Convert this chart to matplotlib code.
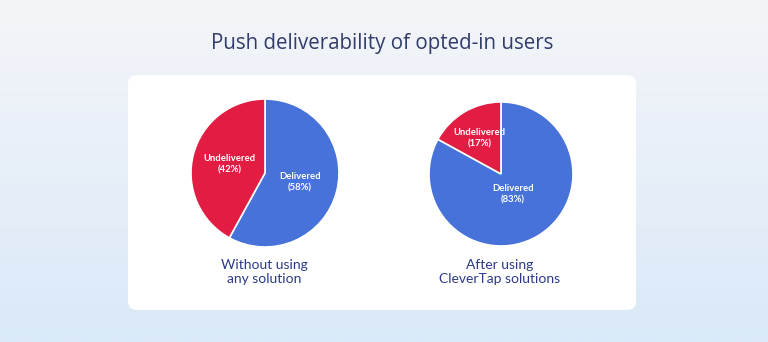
import numpy as np
import matplotlib
matplotlib.use("Agg")
import matplotlib.pyplot as plt
from matplotlib.patches import FancyBboxPatch
from matplotlib.colors import LinearSegmentedColormap

# data
title = "Push deliverability of opted-in users"
slice_names = ["Delivered", "Undelivered"]
before_values = [58, 42]
after_values = [83, 17]
captions = ["Without using\nany solution", "After using\nCleverTap solutions"]

BLUE = "#4672d9"
RED = "#e31c43"
NAVY = "#2b3a8a"

W, H = 768, 342
fig = plt.figure(figsize=(W / 100, H / 100), dpi=100)
ax = fig.add_axes([0, 0, 1, 1])
ax.set_xlim(0, W)
ax.set_ylim(0, H)
ax.set_aspect("equal")
ax.axis("off")

# background gradient
cmap = LinearSegmentedColormap.from_list("bg", ["#dae9f9", "#f4f5f8"])
grad = np.linspace(0, 1, 256).reshape(-1, 1)
ax.imshow(grad, extent=[0, W, 0, H], origin="lower", cmap=cmap, aspect="auto", zorder=0)

# white card
card = FancyBboxPatch((128, H - 310), 508, 235, boxstyle="round,pad=0,rounding_size=9",
                      facecolor="white", edgecolor="none", zorder=1)
ax.add_patch(card)

ax.text(382, H - 43, title, ha="center", va="center", fontsize=14.8,
        family="Open Sans", color="#323d6c", zorder=3)


def draw_pie(values, center, radius, explode, label_dist):
    wedges, texts = ax.pie(values, colors=[BLUE, RED], startangle=90, counterclock=False,
                           center=center, radius=radius, explode=explode, frame=True,
                           wedgeprops=dict(edgecolor="white", linewidth=1.2),
                           labels=None)
    for w, name, val, d in zip(wedges, slice_names, values, label_dist):
        ang = np.deg2rad((w.theta1 + w.theta2) / 2)
        cx, cy = w.center
        ax.text(cx + d * w.r * np.cos(ang), cy + d * w.r * np.sin(ang),
                f"{name}\n({val}%)", ha="center", va="center", fontsize=6.8,
                family="Lato", fontweight="bold", color="white",
                linespacing=1.3, zorder=4)
        w.set_zorder(2)


draw_pie(before_values, (265, H - 173), 74, [0, 0.015], [0.49, 0.49])
draw_pie(after_values, (501, H - 174), 72, [0, 0.065], [0.33, 0.58])

ax.set_xlim(0, W)
ax.set_ylim(0, H)
ax.axis("off")

for x, cap in zip([264, 500], captions):
    ax.text(x, H - 272, cap, ha="center", va="center", fontsize=10,
            family="Lato", color=NAVY, linespacing=1.15, zorder=3)

plt.savefig("out.png", dpi=100)
